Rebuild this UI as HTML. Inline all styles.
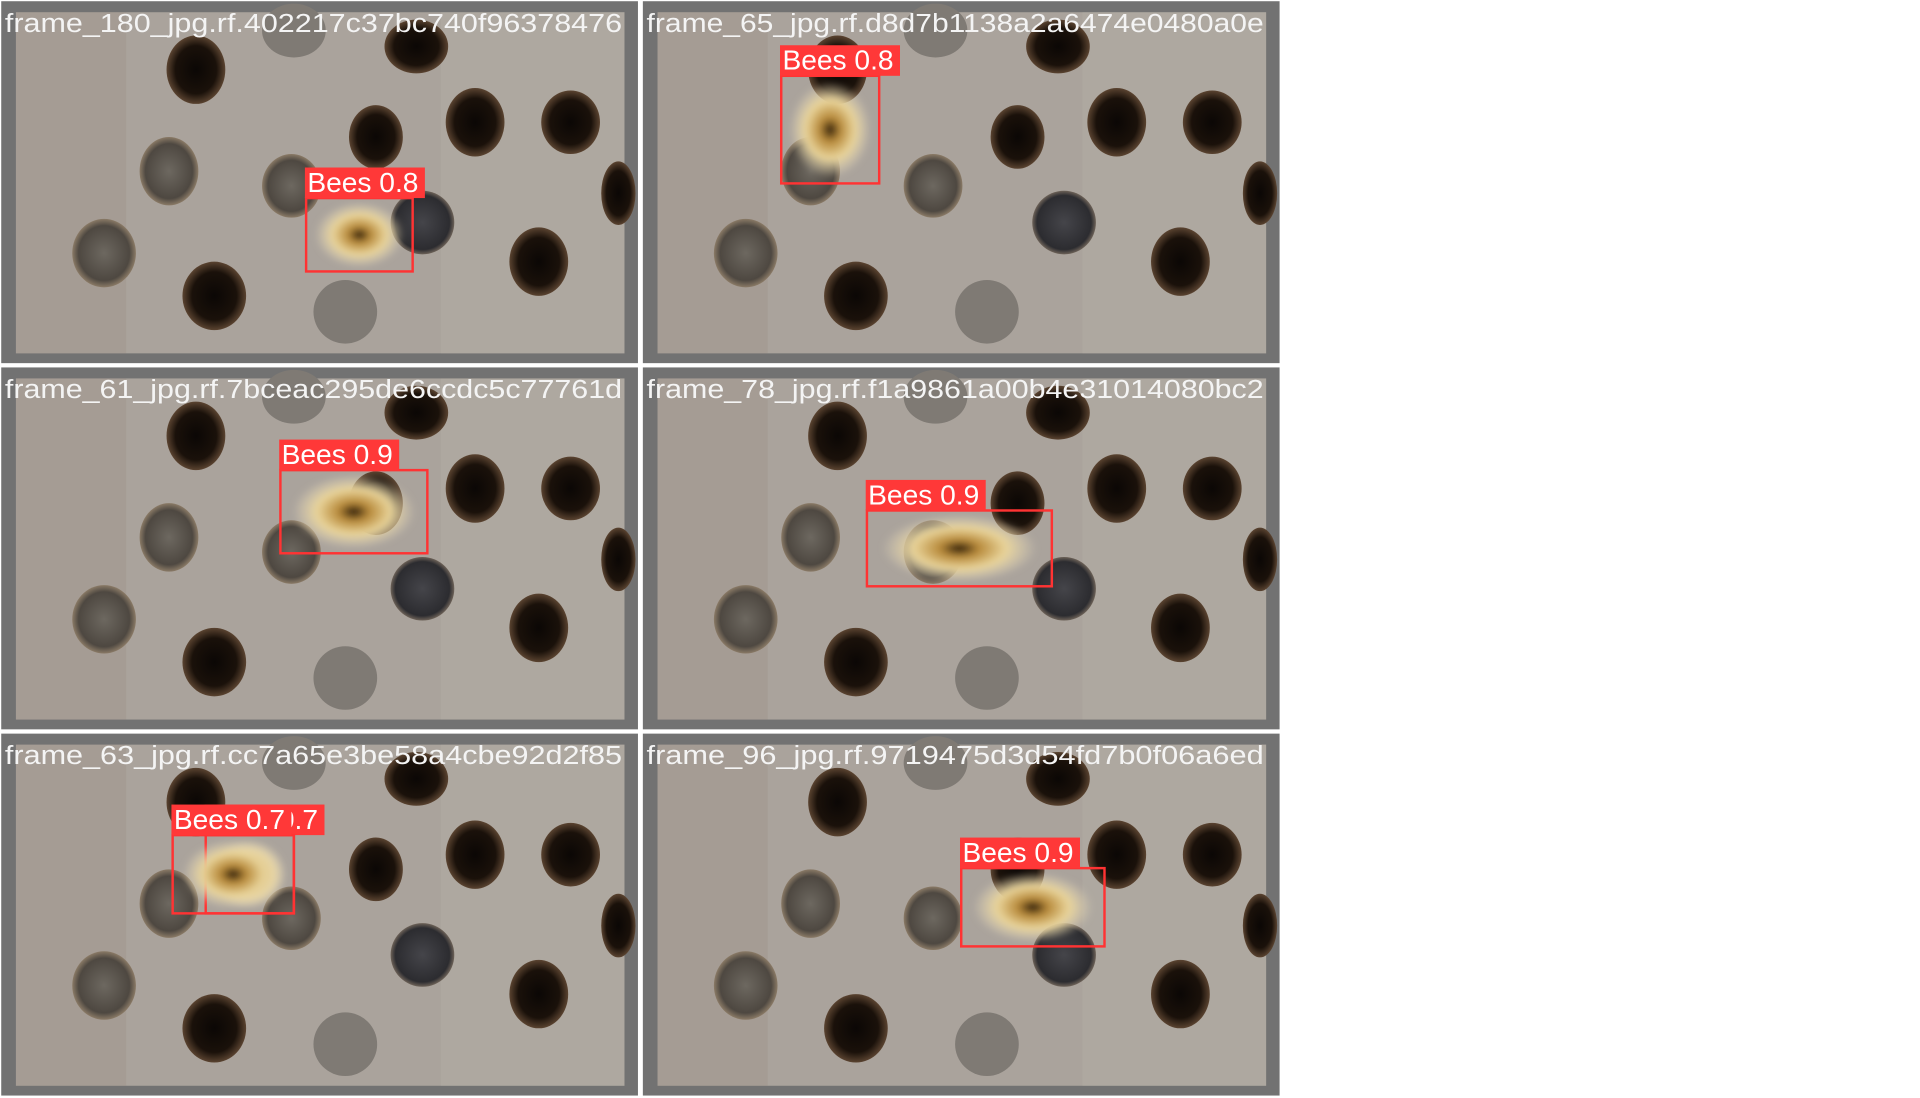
<!DOCTYPE html>
<html><head><meta charset="utf-8"><style>
html,body{margin:0;padding:0;background:#fff}
svg{display:block}
</style></head><body>
<svg id="mosaic" width="1920" height="1098" viewBox="0 0 1568 898" preserveAspectRatio="none" xmlns="http://www.w3.org/2000/svg">
<defs>
<filter id="blur2" x="-50%" y="-50%" width="200%" height="200%"><feGaussianBlur stdDeviation="2.5"/></filter>
<radialGradient id="hole" cx="50%" cy="50%" r="50%"><stop offset="0" stop-color="#0b0705"/><stop offset="0.7" stop-color="#1a110a"/><stop offset="1" stop-color="#5a4330"/></radialGradient>
<radialGradient id="plug" cx="50%" cy="50%" r="50%"><stop offset="0" stop-color="#6d6860"/><stop offset="0.8" stop-color="#4e4841"/><stop offset="1" stop-color="#8a7a66"/></radialGradient>
<radialGradient id="dplug" cx="50%" cy="50%" r="50%"><stop offset="0" stop-color="#45454a"/><stop offset="0.85" stop-color="#2c2c30"/><stop offset="1" stop-color="#6d6258"/></radialGradient>
<radialGradient id="bee" cx="50%" cy="50%" r="50%"><stop offset="0" stop-color="#2a1a08"/><stop offset="0.25" stop-color="#b88a3a"/><stop offset="0.6" stop-color="#e9d49a"/><stop offset="1" stop-color="#e8dcc0" stop-opacity="0"/></radialGradient>
</defs>
</svg>
<script>
const tileNames = ["frame_180_jpg.rf.402217c37bc740f96378476","frame_65_jpg.rf.d8d7b1138a2a6474e0480a0e","frame_61_jpg.rf.7bceac295de6ccdc5c77761d","frame_78_jpg.rf.f1a9861a00b4e31014080bc2","frame_63_jpg.rf.cc7a65e3be58a4cbe92d2f85","frame_96_jpg.rf.9719475d3d54fd7b0f06a6ed"];
const tileCols = [0,1,0,1,0,1];
const tileRows = [0,0,1,1,2,2];
const holeX = [160,307,388,466,505,440,175,340,138,238,85,282,345,240];
const holeY = [57,112,100,100,158,214,242,38,140,152,207,255,182,25];
const holeRX = [24,22,24,24,14,24,26,26,24,24,26,26,26,26];
const holeRY = [28,26,28,26,26,28,28,22,28,26,28,26,26,22];
const holeType = ["h","h","h","h","h","h","h","h","p","p","p","g","d","g"];
const detTile = [0,1,2,3,4,4,5];
const detX1 = [250,114,229,184,168,141,261];
const detY1 = [162,62,85,118,84,84,111];
const detX2 = [337,194,349,335,240,240,378];
const detY2 = [222,150,153,180,148,148,175];
const detLabel = ["Bees 0.8","Bees 0.8","Bees 0.9","Bees 0.9","Bees 0.7","Bees 0.7","Bees 0.9"];

const NS="http://www.w3.org/2000/svg";
const svg=document.getElementById('mosaic');
function mk(t,a,p){const e=document.createElementNS(NS,t);for(const k in a)e.setAttribute(k,a[k]);(p||svg).appendChild(e);return e;}
const TW=522,TH=299.5;
tileNames.forEach((name,i)=>{
  const ox=tileCols[i]*(TW+2), oy=tileRows[i]*TH;
  const g=mk('g',{transform:`translate(${ox},${oy})`});
  
  
  const fr=mk('rect',{x:1,y:1,width:520,height:296,fill:'#727272'},g);
  
  
  const img=mk('g',{},g);
  
  
  mk('rect',{x:13,y:10,width:497,height:279,fill:'#aaa39c'},img);
  mk('rect',{x:13,y:10,width:90,height:279,fill:'#9c8e82',opacity:0.3},img);
  mk('rect',{x:360,y:10,width:150,height:279,fill:'#b5aea7',opacity:0.4},img);
  for(let k=0;k<holeX.length;k++){
    const t=holeType[k];
    const fill=t==='h'?'url(#hole)':t==='p'?'url(#plug)':t==='d'?'url(#dplug)':'#7f7a74';
    const cy=Math.max(holeY[k],10+holeRY[k]*0.3);
    const e=mk('ellipse',{cx:Math.min(holeX[k],510),cy:cy,rx:holeRX[k],ry:holeRY[k],fill:fill},img);
    
    
  }
  const tx=mk('text',{x:4,y:26,fill:'#f4f4f4','font-family':'Liberation Sans, sans-serif','font-size':21,textLength:504,lengthAdjust:'spacingAndGlyphs'},g);
  tx.textContent=name;
  
  
});
for(let d=0;d<detTile.length;d++){
  const i=detTile[d];
  const ox=tileCols[i]*(TW+2), oy=tileRows[i]*TH;
  const x1=detX1[d]+ox,y1=detY1[d]+oy,x2=detX2[d]+ox,y2=detY2[d]+oy;
  const b=mk('ellipse',{cx:(x1+x2)/2,cy:(y1+y2)/2,rx:(x2-x1)*0.42,ry:(y2-y1)*0.45,fill:'url(#bee)',filter:'url(#blur2)'});
  
  
  const r=mk('rect',{x:x1,y:y1,width:x2-x1,height:y2-y1,fill:'none',stroke:'#ff3333','stroke-width':2});
  
  
  const lb=mk('rect',{x:x1-1,y:y1-25,width:98,height:25,fill:'#ff3838'});
  
  
  const lt=mk('text',{x:x1+1,y:y1-5,fill:'#ffffff','font-family':'Liberation Sans, sans-serif','font-size':23});
  lt.textContent=detLabel[d];
  
  
}
</script>
</body></html>
